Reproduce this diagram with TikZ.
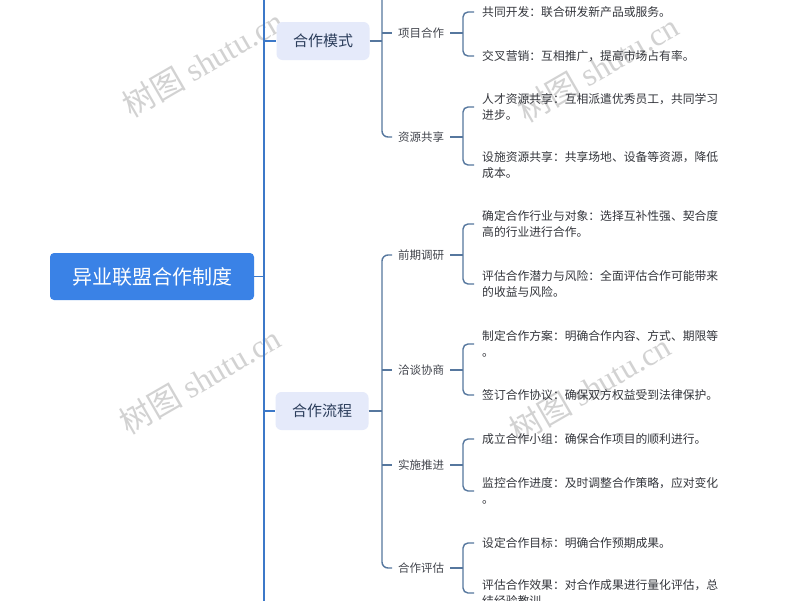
\documentclass[tikz,border=0pt]{standalone}
\usepackage{fontspec}
\setmainfont{Noto Sans CJK SC}
\newfontfamily\wmlatin{Liberation Serif}
\definecolor{rootblue}{HTML}{3A82E6}
\definecolor{topicfill}{HTML}{E5EAFA}
\definecolor{topictext}{HTML}{2B3D5B}
\definecolor{subtext}{HTML}{43464E}
\definecolor{leaftext}{HTML}{34363C}
\definecolor{trunkblue}{HTML}{3C78C8}
\definecolor{connblue}{HTML}{56779E}
\definecolor{wmgray}{HTML}{D2D2D2}
\begin{document}
\begin{tikzpicture}[x=1pt,y=-1pt,
  rootbox/.style={fill=rootblue, rounded corners=4pt, text=white,
    font=\fontsize{20pt}{24pt}\selectfont, minimum width=204pt, minimum height=47pt, inner sep=0pt},
  topicbox/.style={fill=topicfill, rounded corners=6pt, text=topictext,
    font=\fontsize{15pt}{18pt}\selectfont, minimum width=93pt, minimum height=38pt, inner sep=0pt},
  sublabel/.style={anchor=west, inner xsep=6pt, inner ysep=2pt, text=subtext,
    font=\fontsize{11.5pt}{14pt}\selectfont},
  leaf/.style={anchor=west, inner xsep=8pt, inner ysep=0pt, align=left, text=leaftext,
    font=\fontsize{11.8pt}{16pt}\selectfont},
  trunk/.style={draw=trunkblue, line width=1.6pt},
  conn/.style={draw=connblue, line width=1.4pt, rounded corners=6pt},
  wm/.style={text=wmgray, rotate=30, font=\fontsize{32pt}{34pt}\selectfont}
]
\useasboundingbox (0,0) rectangle (800,600);
\clip (0,0) rectangle (800,600);
\fill[white] (0,0) rectangle (800,600);

% watermarks
\node[wm] (wm1) at (203,63) {树图 {\wmlatin shutu.cn}};
\node[wm] (wm2) at (598,68) {树图 {\wmlatin shutu.cn}};
\node[wm] (wm3) at (200,380) {树图 {\wmlatin shutu.cn}};
\node[wm] (wm4) at (590,388) {树图 {\wmlatin shutu.cn}};

% root and trunk
\node[rootbox] (root) at (152,276.5) {异业联盟合作制度};
\coordinate (tTop) at (264,-10);
\coordinate (tBot) at (264,610);

% level 1
\node[topicbox] (l1a) at (323,41) {合作模式};
\node[topicbox] (l1b) at (322,411) {合作流程};

% level 2
\node[sublabel] (l2a) at (392,33) {项目合作};
\node[sublabel] (l2b) at (392,137) {资源共享};
\node[sublabel] (l2c) at (392,255) {前期调研};
\node[sublabel] (l2d) at (392,370) {洽谈协商};
\node[sublabel] (l2e) at (392,465) {实施推进};
\node[sublabel] (l2f) at (392,568) {合作评估};

% leaves
\node[leaf] (A1) at (474,12) {共同开发：联合研发新产品或服务。};
\node[leaf] (A2) at (474,56) {交叉营销：互相推广，提高市场占有率。};
\node[leaf] (B1) at (474,107) {人才资源共享：互相派遣优秀员工，共同学习\\进步。};
\node[leaf] (B2) at (474,165) {设施资源共享：共享场地、设备等资源，降低\\成本。};
\node[leaf] (C1) at (474,224) {确定合作行业与对象：选择互补性强、契合度\\高的行业进行合作。};
\node[leaf] (C2) at (474,284) {评估合作潜力与风险：全面评估合作可能带来\\的收益与风险。};
\node[leaf] (D1) at (474,344) {制定合作方案：明确合作内容、方式、期限等\\。};
\node[leaf] (D2) at (474,395) {签订合作协议：确保双方权益受到法律保护。};
\node[leaf] (E1) at (474,439) {成立合作小组：确保合作项目的顺利进行。};
\node[leaf] (E2) at (474,491) {监控合作进度：及时调整合作策略，应对变化\\。};
\node[leaf] (F1) at (474,543) {设定合作目标：明确合作预期成果。};
\node[leaf] (F2) at (474,593) {评估合作效果：对合作成果进行量化评估，总\\结经验教训。};

% trunk connectors
\draw[trunk] (tTop) -- (tBot);
\draw[trunk] (root.east) -- (root.east -| tTop);
\draw[trunk] (l1a.west -| tTop) -- (l1a.west);
\draw[trunk] (l1b.west -| tTop) -- (l1b.west);

% level-2 verticals
\coordinate (v1top) at (382,-10);
\coordinate (v2) at (382,411);
\draw[conn] (l1a.east) -- (l1a.east -| v1top);
\draw[conn] (v1top) |- (l2b.west);
\draw[conn] (v1top |- l2a.west) -- (l2a.west);
\draw[conn] (l1b.east) -- (v2);
\draw[conn] (l2c.west) -| (v2 |- l2f.west) -- (l2f.west);
\draw[conn] (l2d.west -| v2) -- (l2d.west);
\draw[conn] (l2e.west -| v2) -- (l2e.west);

% brackets
\coordinate (bA) at (463,33);
\coordinate (bB) at (463,137);
\coordinate (bC) at (463,255);
\coordinate (bD) at (463,370);
\coordinate (bE) at (463,465);
\coordinate (bF) at (463,568);
\foreach \p/\b/\u/\d in {l2a/bA/A1/A2, l2b/bB/B1/B2, l2c/bC/C1/C2, l2d/bD/D1/D2, l2e/bE/E1/E2, l2f/bF/F1/F2}{
  \draw[conn] (\p.east) -- (\b);
  \draw[conn, rounded corners=5pt] (\u.west) -| (\b |- \d.west) -- (\d.west);
}
\end{tikzpicture}
\end{document}
